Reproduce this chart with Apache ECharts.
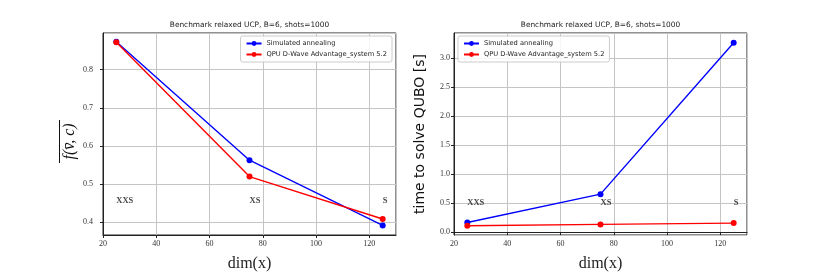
<!DOCTYPE html>
<html><head><meta charset="utf-8">
<script src="https://cdn.jsdelivr.net/npm/echarts@6/dist/echarts.min.js"></script>
<style>html,body{margin:0;padding:0;background:#fff}#c{width:830px;height:277px}</style>
</head><body><div id="c"></div>
<script>
const dims = [25, 75, 125];
const sizeLabels = ['XXS', 'XS', 'S'];
const objSA = [0.873, 0.563, 0.392];
const objQPU = [0.872, 0.520, 0.409];
const timeSA = [0.166, 0.655, 3.27];
const timeQPU = [0.110, 0.133, 0.155];
const labelYLeft = 0.45;
const labelYRight = 0.45;
const titleText = 'Benchmark relaxed UCP, B=6, shots=1000';
const nameSA = 'Simulated annealing';
const nameQPU = 'QPU D-Wave Advantage_system 5.2';

const pairs = (ys) => dims.map((x, i) => [x, ys[i]]);
const serif = 'Liberation Serif';
const sans = 'DejaVu Sans';

function xAxisOpt(gi) {
  return {
    type: 'value', gridIndex: gi, min: 20, max: 130, interval: 20,
    name: 'dim(x)', nameLocation: 'middle', nameGap: 21,
    nameTextStyle: {fontFamily: serif, fontSize: 16, color: '#222'},
    axisLine: {show: true, lineStyle: {color: '#222', width: 1}},
    axisTick: {show: true, length: 3, lineStyle: {color: '#222'}},
    axisLabel: {fontFamily: serif, fontSize: 8, color: '#333', margin: 5, showMaxLabel: false},
    splitLine: {show: true, lineStyle: {color: '#c4c4c4', width: 1}}
  };
}
function yAxisOpt(gi, min, max, split, margin) {
  return {
    type: 'value', gridIndex: gi, min: min, max: max, splitNumber: split,
    axisLine: {show: true, lineStyle: {color: '#222', width: 1}},
    axisTick: {show: true, length: 3, lineStyle: {color: '#222'}},
    axisLabel: {fontFamily: serif, fontSize: 8, color: '#333', margin: margin,
      showMinLabel: false, showMaxLabel: false,
      formatter: v => v.toFixed(1)},
    splitLine: {show: true, lineStyle: {color: '#c4c4c4', width: 1}}
  };
}
function lineSeries(name, color, data, gi) {
  return {
    type: 'line', name: name, xAxisIndex: gi, yAxisIndex: gi, data: data,
    symbol: 'circle', symbolSize: 6, showSymbol: true,
    lineStyle: {color: color, width: 1.4}, itemStyle: {color: color},
    animation: false, z: 3
  };
}
function labelSeries(gi, yv) {
  return {
    type: 'scatter', xAxisIndex: gi, yAxisIndex: gi, symbolSize: 0,
    data: dims.map((x, i) => ({value: [x, yv], name: sizeLabels[i]})),
    label: {show: true, position: [0, 0], align: 'left', verticalAlign: 'middle', offset: [0, -3],
      formatter: p => p.name, fontFamily: serif, fontWeight: 'bold', fontSize: 8.5, color: '#111'},
    animation: false, silent: true
  };
}
function legendOpt(pos) {
  return Object.assign({
    data: [nameSA, nameQPU], orient: 'vertical', top: 36,
    itemWidth: 15, itemHeight: 6, itemGap: 4, padding: [4, 5, 4, 5],
    backgroundColor: 'rgba(255,255,255,0.85)', borderColor: '#cccccc', borderWidth: 1, borderRadius: 2,
    textStyle: {fontFamily: sans, fontSize: 6.7, color: '#222'}
  }, pos);
}

const chart = echarts.init(document.getElementById('c'), null, {renderer: 'canvas'});
chart.setOption({
  backgroundColor: '#fff',
  animation: false,
  grid: [
    {left: 103, right: 434, top: 33, bottom: 35, show: true, borderColor: '#222', borderWidth: 1, backgroundColor: '#fff'},
    {left: 454, right: 83, top: 33, bottom: 35, show: true, borderColor: '#222', borderWidth: 1, backgroundColor: '#fff'}
  ],
  xAxis: [xAxisOpt(0), xAxisOpt(1)],
  yAxis: [
    yAxisOpt(0, 0.367, 0.896, 5, 10),
    Object.assign(yAxisOpt(1, -0.05, 3.437, 7, 4), {
      name: 'time to solve QUBO [s]', nameLocation: 'middle', nameRotate: 90, nameGap: 27,
      nameTextStyle: {fontFamily: sans, fontSize: 14, color: '#111'}
    })
  ],
  legend: [legendOpt({right: 438}), legendOpt({left: 458})],
  series: [
    lineSeries(nameSA, '#0000ff', pairs(objSA), 0),
    lineSeries(nameQPU, '#ff0000', pairs(objQPU), 0),
    labelSeries(0, labelYLeft),
    lineSeries(nameSA, '#0000ff', pairs(timeSA), 1),
    lineSeries(nameQPU, '#ff0000', pairs(timeQPU), 1),
    labelSeries(1, labelYRight)
  ],
  graphic: [
    {type: 'text', x: 249.5, y: 25, style: {text: titleText, fontFamily: sans, fontSize: 7.4, fill: '#222', textAlign: 'center', textVerticalAlign: 'middle'}},
    {type: 'text', x: 600.5, y: 25, style: {text: titleText, fontFamily: sans, fontSize: 7.4, fill: '#222', textAlign: 'center', textVerticalAlign: 'middle'}},
    {type: 'text', x: 70, y: 141.5, rotation: Math.PI / 2, style: {text: 'f(v\u0304, c)', fontFamily: serif, fontStyle: 'italic', fontSize: 16, fill: '#111', textAlign: 'center', textVerticalAlign: 'middle'}},
    {type: 'line', shape: {x1: 59.5, y1: 120, x2: 59.5, y2: 163}, style: {stroke: '#111', lineWidth: 1}}
  ]
});
</script>
</body></html>
